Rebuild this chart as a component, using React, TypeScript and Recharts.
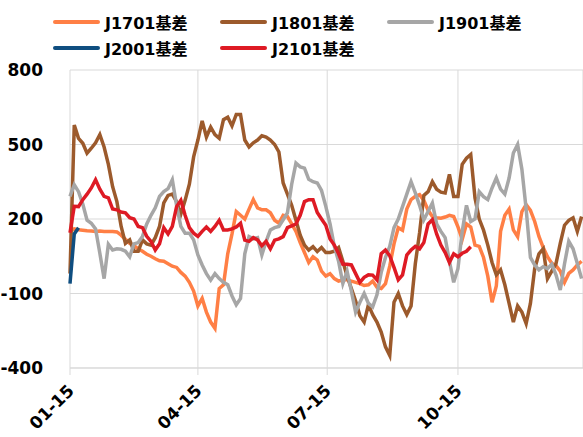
import { LineChart, Line, XAxis, YAxis, CartesianGrid } from 'recharts';

// x axis: days after 01-15, one sample every 3 days
const STEP = 3;
const tickDays = [0, 90, 181, 273];
const tickLabels = ['01-15', '04-15', '07-15', '10-15'];
const yTicks = [-400, -100, 200, 500, 800];

const j1701 = [
  150, 160, 157, 155, 153, 152, 150, 152, 150, 150,
  150, 148, 135, 118, 102, 92, 80, 70, 58, 50,
  40, 32, 30, 20, 10, 5, -15, -30, -55, -90,
  -150, -120, -175, -215, -240, -80, -65, 60, 140, 230,
  215, 200, 240, 278, 245, 237, 237, 225, 195, 183,
  215, 210, 180, 150, 105, 65, 25, 48, 35, -10,
  -30, -20, -40, -50, -45, -45, -50, -55, -60, -68,
  -65, -50, -75, -80, -60, 10, 100, 165, 155, 240,
  278, 291, 298, 275, 235, 210, 205, 203, 208, 215,
  210, 168, 118, 180, 168, 95, 90, 45, -30, -135,
  -70, 150, 215, 240, 156, 129, 230, 258, 235, 190,
  130, 85, 48, 22, 12, -10, -55, -19, -5, 15,
  30,
];

const j1801 = [
  -20, 578, 525, 505, 465, 485, 507, 540, 490, 420,
  330, 270, 170, 102, 116, 70, 70, 116, 100, 95,
  125, 170, 265, 295, 300, 270, 220, 275, 340, 450,
  518, 595, 530, 570, 540, 525, 600, 610, 575, 621,
  621, 518, 490, 507, 518, 535, 530, 518, 500, 470,
  345, 300, 255, 195, 135, 95, 75, 89, 69, 85,
  65, 65, 70, 85, 30, -30, -80, -130, -190, -215,
  -145, -185, -215, -255, -315, -350, -135, -100, -150, -185,
  -150, 20, 145, 295, 310, 350, 320, 308, 305, 380,
  291, 291, 420, 445, 460, 285, 200, 155, 95, 25,
  -25, -5, -65, -140, -215, -150, -175, -221, -140, 0,
  60, 80, -40, -10, 20, 102, 175, 195, 205, 150,
  210,
];

const j1901 = [
  291, 338, 310, 260, 195, 183, 160, 62, -40, 98,
  75, 80, 78, 70, 48, 100, 105, 130, 180, 215,
  245, 291, 310, 322, 358, 255, 170, 143, 143, 116,
  55, 15, -20, -46, -20, -40, -55, -65, -110, -145,
  -120, 60, 129, 120, 125, 55, 110, 156, 165, 170,
  197, 225, 340, 425, 410, 405, 360, 350, 345, 315,
  251, 180, 90, 30, -60, -10, -90, -175, -135, -100,
  -140, -154, -105, -15, 45, 90, 165, 200, 250, 300,
  350, 305, 255, 197, 230, 264, 180, 150, 125, 30,
  -55, 0, 150, 255, 190, 200, 310, 290, 278, 325,
  365, 320, 300, 365, 466, 500, 400, 240, 45, 15,
  -5, 8, 0, 18, -25, -86, 20, 110, 80, 21,
  -40,
];

const j2001 = [-60, 140, 165];

const j2101 = [
  145, 251, 250, 278, 300, 325, 358, 320, 291, 285,
  240, 237, 228, 225, 205, 200, 170, 165, 130, 110,
  75, 100, 165, 140, 170, 250, 275, 215, 165, 143,
  130, 150, 168, 150, 170, 195, 156, 156, 160, 168,
  183, 115, 110, 125, 116, 92, 110, 80, 115, 120,
  129, 165, 172, 180, 215, 270, 278, 278, 226, 200,
  175, 120, 95, 60, 18, 18, 15, -20, -55, -35,
  -25, -26, -45, 60, 75, 52, 5, -45, -25, 55,
  75, 90, 80, 105, 180, 197, 140, 95, 65, 25,
  60, 48, 62, 70, 88,
];

const seriesKeys = ['j1701', 'j1801', 'j1901', 'j2001', 'j2101'];
const seriesNames = ['J1701基差', 'J1801基差', 'J1901基差', 'J2001基差', 'J2101基差'];
const seriesColors = ['#ff7f45', '#9c5a2c', '#a6a6a6', '#0f4e80', '#de1a24'];
const seriesValues = [j1701, j1801, j1901, j2001, j2101];

const rows = j1701.map((_, i) => {
  const row: Record<string, number | null> = { day: i * STEP };
  seriesKeys.forEach((k, s) => {
    const v = seriesValues[s][i];
    row[k] = v === undefined ? null : v;
  });
  return row;
});

const FONT = '"DejaVu Sans", "Noto Sans CJK SC", sans-serif';

const XTick = (props: any) => {
  const { x, y, payload } = props;
  const idx = tickDays.indexOf(payload.value);
  const tx = x + 5;
  const ty = y + 15;
  return (
    <text
      x={tx}
      y={ty}
      transform={`rotate(-45, ${tx}, ${ty})`}
      textAnchor="end"
      fontSize={17}
      fontWeight="bold"
      fontFamily={FONT}
      fill="#000"
    >
      {idx >= 0 ? tickLabels[idx] : ''}
    </text>
  );
};

// legend slots: 3 columns, 2 rows
const legendCols = [53, 220, 387];
const legendRows = [22, 48];

export default function App() {
  return (
    <div style={{ position: 'absolute', left: 0, top: 0, width: 583, height: 437, background: '#fff' }}>
      <LineChart width={583} height={437} data={rows} margin={{ top: 70, right: 0, left: 0, bottom: 9 }}>
        <CartesianGrid stroke="#d9d9d9" strokeWidth={1} />
        <XAxis
          dataKey="day"
          type="number"
          domain={[0, 361]}
          ticks={tickDays}
          interval={0}
          height={60}
          axisLine={{ stroke: '#d9d9d9' }}
          tickLine={{ stroke: '#d9d9d9' }}
          tickSize={7}
          tick={<XTick />}
        />
        <YAxis
          domain={[-400, 800]}
          ticks={yTicks}
          interval={0}
          width={70}
          axisLine={false}
          tickLine={false}
          tickSize={0}
          tickMargin={27}
          tick={{ fill: '#000', fontSize: 17, fontWeight: 'bold', fontFamily: FONT }}
        />
        {seriesKeys.map((k, s) => (
          <Line
            key={k}
            type="linear"
            dataKey={k}
            name={seriesNames[s]}
            stroke={seriesColors[s]}
            strokeWidth={3.5}
            dot={false}
            isAnimationActive={false}
            connectNulls={false}
          />
        ))}
      </LineChart>
      {seriesNames.map((name, s) => (
        <div
          key={name}
          style={{
            position: 'absolute',
            left: legendCols[s % 3],
            top: legendRows[Math.floor(s / 3)] - 11,
            height: 22,
            display: 'flex',
            alignItems: 'center',
            fontFamily: FONT,
            fontWeight: 'bold',
            fontSize: 16,
            color: '#000',
            whiteSpace: 'nowrap',
          }}
        >
          <span
            style={{
              display: 'inline-block',
              width: 47,
              height: 4,
              borderRadius: 2,
              background: seriesColors[s],
              marginRight: 5,
            }}
          />
          {name}
        </div>
      ))}
    </div>
  );
}
